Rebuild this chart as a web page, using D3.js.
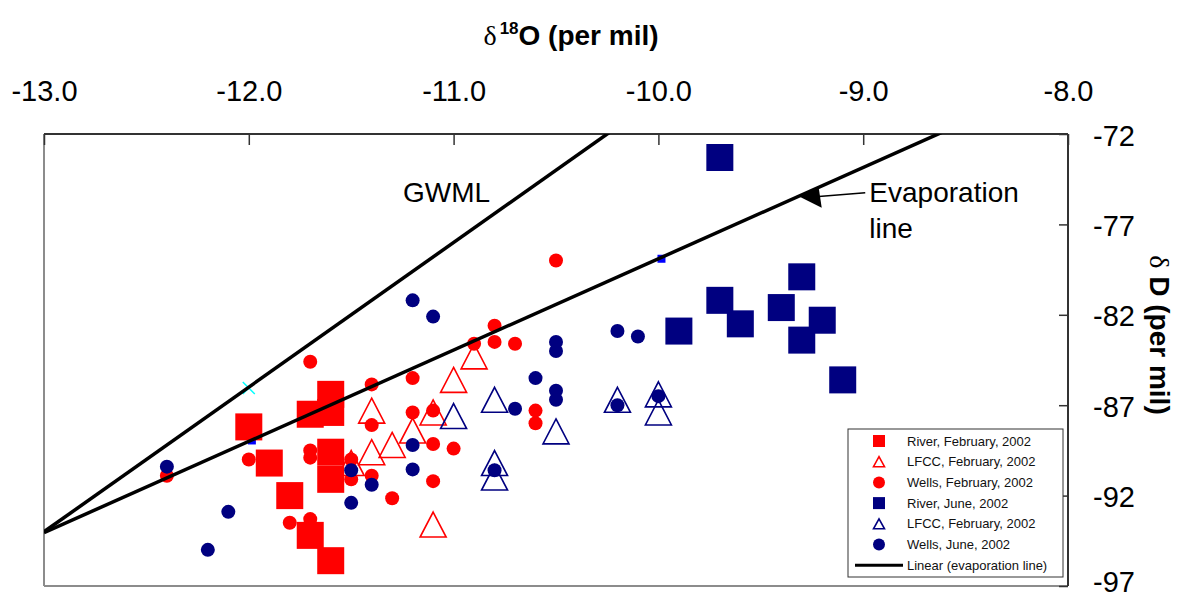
<!DOCTYPE html>
<html>
<head>
<meta charset="utf-8">
<script src="https://cdn.jsdelivr.net/npm/d3@7"></script>
<style>
body { margin: 0; background: #fff; }
svg { font-family: "Liberation Sans", Arial, sans-serif; }
</style>
</head>
<body>
<svg width="1178" height="599"></svg>
<script>

// ejes
let xTicks = [-13, -12, -11, -10, -9, -8];
let yTicks = [-97, -92, -87, -82, -77, -72];

// series [d18O, dD]
let riverFeb = [[-12.0,-88.2],[-11.9,-90.2],[-11.8,-92.0],[-11.7,-87.5],[-11.7,-94.2],
    [-11.6,-86.4],[-11.6,-87.4],[-11.6,-89.6],[-11.6,-91.1],[-11.6,-95.6]];
let lfccFeb = [[-11.5,-90.2],[-11.4,-87.3],[-11.4,-89.6],[-11.3,-89.2],[-11.2,-88.4],
    [-11.1,-87.4],[-11.1,-93.6],[-11.0,-85.6],[-10.9,-84.3]];
let wellsFeb = [[-12.4,-90.9],[-12.0,-90.0],[-11.8,-93.5],[-11.7,-84.6],[-11.7,-89.5],
    [-11.7,-89.9],[-11.7,-93.3],[-11.5,-90.0],[-11.5,-91.1],[-11.4,-85.85],[-11.4,-88.1],
    [-11.4,-90.9],[-11.3,-92.15],[-11.2,-85.5],[-11.2,-87.4],[-11.1,-87.3],[-11.1,-89.15],
    [-11.1,-91.2],[-11.0,-89.4],[-10.9,-83.6],[-10.8,-82.6],[-10.8,-83.5],[-10.7,-83.6],
    [-10.6,-87.3],[-10.6,-88.0],[-10.5,-79.0]];
let riverJun = [[-9.9,-82.9],[-9.7,-73.3],[-9.7,-81.2],[-9.6,-82.5],[-9.4,-81.6],
    [-9.3,-79.9],[-9.3,-83.4],[-9.2,-82.3],[-9.1,-85.6]];
let lfccJun = [[-11.0,-87.6],[-10.8,-86.7],[-10.8,-90.2],[-10.8,-91.0],[-10.5,-88.45],
    [-10.2,-86.7],[-10.0,-86.4],[-10.0,-87.4]];
let wellsJun = [[-12.4,-90.4],[-12.2,-95.0],[-12.1,-92.9],[-11.5,-90.6],[-11.5,-92.4],
    [-11.4,-91.4],[-11.2,-81.2],[-11.2,-89.2],[-11.2,-90.55],[-11.1,-82.1],[-10.8,-90.6],
    [-10.7,-87.2],[-10.6,-85.5],[-10.5,-83.5],[-10.5,-84.0],[-10.5,-86.2],[-10.5,-86.7],
    [-10.2,-82.9],[-10.2,-87.0],[-10.1,-83.2],[-10.0,-86.5]];
// marcadores sueltos (casi tapados)
let hiddenBlue = [[-11.985,-88.95],[-9.985,-78.9]];
let hiddenCyan = [[-12.0,-86.05]];

// rectas
let lineSlopes = [8, 5.05];
let lineIntercepts = [10, -28.4];

let legendLabels = ['River, February, 2002', 'LFCC, February, 2002', 'Wells, February, 2002',
    'River, June, 2002', 'LFCC, February, 2002', 'Wells, June, 2002', 'Linear (evaporation line)'];

let svg = d3.select('svg');
let pLeft = 44, pRight = 1068, pTop = 134, pBottom = 586;

let x = d3.scaleLinear().domain([-13, -8]).range([pLeft, pRight]);
let y = d3.scaleLinear().domain([-97, -72]).range([pBottom, pTop]);

let red = '#ff0000', navy = '#000080';

svg.append('clipPath').attr('id', 'plot')
    .append('rect').attr('x', pLeft).attr('y', pTop)
    .attr('width', pRight - pLeft).attr('height', pBottom - pTop);

// marco
svg.append('line').attr('x1', pLeft).attr('x2', pLeft).attr('y1', pTop).attr('y2', pBottom)
    .attr('stroke', '#8c8c8c').attr('stroke-width', 2);
svg.append('line').attr('x1', pLeft).attr('x2', pRight).attr('y1', pBottom).attr('y2', pBottom)
    .attr('stroke', '#8c8c8c').attr('stroke-width', 2);
svg.append('line').attr('x1', pLeft).attr('x2', pRight).attr('y1', pTop).attr('y2', pTop)
    .attr('stroke', '#333').attr('stroke-width', 2);
svg.append('line').attr('x1', pRight).attr('x2', pRight).attr('y1', pTop).attr('y2', pBottom)
    .attr('stroke', '#333').attr('stroke-width', 2);

// eje x arriba
let gx = svg.append('g').attr('transform', 'translate(0,' + pTop + ')')
    .call(d3.axisTop(x).tickValues(xTicks).tickFormat(d => d.toFixed(1))
        .tickSizeInner(-11).tickSizeOuter(0).tickPadding(33));
gx.select('.domain').remove();
gx.selectAll('.tick line').attr('stroke', '#333').attr('stroke-width', 1.5);
gx.selectAll('.tick text').attr('font-size', 29).attr('fill', '#000')
    .attr('font-family', '"Liberation Sans", Arial, sans-serif');

// eje y a la derecha
let gy = svg.append('g').attr('transform', 'translate(' + pRight + ',0)')
    .call(d3.axisRight(y).tickValues(yTicks).tickFormat(d => String(d))
        .tickSizeInner(-9).tickSizeOuter(0).tickPadding(25));
gy.select('.domain').remove();
gy.selectAll('.tick line').attr('stroke', '#333').attr('stroke-width', 1.5);
gy.selectAll('.tick text').attr('font-size', 29).attr('fill', '#000')
    .attr('dy', d => d === -97 ? '0.2em' : '0.38em')
    .attr('font-family', '"Liberation Sans", Arial, sans-serif');

// titulos
let tx = svg.append('text').attr('x', 571).attr('y', 45)
    .attr('text-anchor', 'middle').attr('font-size', 28).attr('font-weight', 'bold');
tx.append('tspan').attr('font-family', '"Liberation Serif", serif').attr('font-weight', 'normal').text('δ');
tx.append('tspan').attr('font-size', 17).attr('dy', -11).attr('dx', 3).text('18');
tx.append('tspan').attr('dy', 11).text('O (per mil)');

let ty = svg.append('text').attr('transform', 'translate(1150,335) rotate(90)')
    .attr('text-anchor', 'middle').attr('font-size', 28).attr('font-weight', 'bold');
ty.append('tspan').attr('font-family', '"Liberation Serif", serif').attr('font-weight', 'normal').text('δ');
ty.append('tspan').text(' D (per mil)');

function tri(cx, cy, w, h) {
    return 'M' + cx + ',' + (cy - h / 2) + 'L' + (cx + w / 2) + ',' + (cy + h / 2)
        + 'L' + (cx - w / 2) + ',' + (cy + h / 2) + 'Z';
}

let g = svg.append('g').attr('clip-path', 'url(#plot)');

function squares(data, color, s) {
    g.append('g').selectAll('rect').data(data).enter().append('rect')
        .attr('x', d => x(d[0]) - s / 2).attr('y', d => y(d[1]) - s / 2)
        .attr('width', s).attr('height', s).attr('fill', color);
}
function triangles(data, color) {
    g.append('g').selectAll('path').data(data).enter().append('path')
        .attr('d', d => tri(x(d[0]), y(d[1]), 26, 25))
        .attr('fill', 'none').attr('stroke', color).attr('stroke-width', 1.6);
}
function circles(data, color) {
    g.append('g').selectAll('circle').data(data).enter().append('circle')
        .attr('cx', d => x(d[0])).attr('cy', d => y(d[1])).attr('r', 7)
        .attr('fill', color);
}

squares(hiddenBlue, '#0000ff', 8);
g.append('g').selectAll('path').data(hiddenCyan).enter().append('path')
    .attr('d', d => {
        let cx = x(d[0]), cy = y(d[1]);
        return 'M' + (cx - 6) + ',' + (cy - 6) + 'L' + (cx + 6) + ',' + (cy + 6)
            + 'M' + (cx + 6) + ',' + (cy - 6) + 'L' + (cx - 6) + ',' + (cy + 6);
    })
    .attr('stroke', '#00ffff').attr('stroke-width', 1.5);

squares(riverFeb, red, 27);
triangles(lfccFeb, red);
circles(wellsFeb, red);
squares(riverJun, navy, 27);
triangles(lfccJun, navy);
circles(wellsJun, navy);

// GWML y linea de evaporacion
lineSlopes.forEach(function (m, i) {
    let b = lineIntercepts[i];
    g.append('line')
        .attr('x1', x(-13)).attr('y1', y(m * -13 + b))
        .attr('x2', x(-8)).attr('y2', y(m * -8 + b))
        .attr('stroke', '#000').attr('stroke-width', 3.5);
});

// anotaciones
svg.append('text').attr('x', x(-11.247)).attr('y', y(-75.76))
    .attr('font-size', 28).text('GWML');
svg.append('text').attr('x', x(-8.97)).attr('y', y(-75.76))
    .attr('font-size', 28).text('Evaporation');
svg.append('text').attr('x', x(-8.97)).attr('y', y(-77.75))
    .attr('font-size', 28).text('line');

let ax = x(-9.31), ay = y(5.05 * -9.31 - 28.4) + 1;
svg.append('line').attr('x1', x(-8.99)).attr('y1', ay - 4)
    .attr('x2', ax + 16).attr('y2', ay).attr('stroke', '#000').attr('stroke-width', 1.5);
svg.append('path')
    .attr('d', 'M' + ax + ',' + ay + 'L' + (ax + 19) + ',' + (ay - 9) + 'L' + (ax + 22) + ',' + (ay + 11) + 'Z')
    .attr('fill', '#000');

// leyenda
let leg = svg.append('g').attr('transform', 'translate(848,429)');
leg.append('rect').attr('width', 215).attr('height', 148)
    .attr('fill', '#fff').attr('stroke', '#333').attr('stroke-width', 1);

let legColors = [red, red, red, navy, navy, navy, '#000'];
let legShapes = ['square', 'triangle', 'circle', 'square', 'triangle', 'circle', 'line'];

let rows = leg.selectAll('g.row').data(legendLabels).enter().append('g')
    .attr('class', 'row')
    .attr('transform', (d, i) => 'translate(0,' + (12 + i * 20.7) + ')');

rows.each(function (d, i) {
    let r = d3.select(this);
    let c = legColors[i];
    if (legShapes[i] === 'square') {
        r.append('rect').attr('x', 25).attr('y', -6).attr('width', 12).attr('height', 12).attr('fill', c);
    } else if (legShapes[i] === 'triangle') {
        r.append('path').attr('d', tri(31, 0, 11, 10)).attr('fill', 'none')
            .attr('stroke', c).attr('stroke-width', 1.6);
    } else if (legShapes[i] === 'circle') {
        r.append('circle').attr('cx', 31).attr('cy', 0).attr('r', 6).attr('fill', c);
    } else {
        r.append('line').attr('x1', 7).attr('x2', 55).attr('y1', 0).attr('y2', 0)
            .attr('stroke', c).attr('stroke-width', 3);
    }
    r.append('text').attr('x', 59).attr('y', 0).attr('dy', '0.35em')
        .attr('font-size', 13).attr('fill', '#111').text(d);
});

</script>
</body>
</html>
